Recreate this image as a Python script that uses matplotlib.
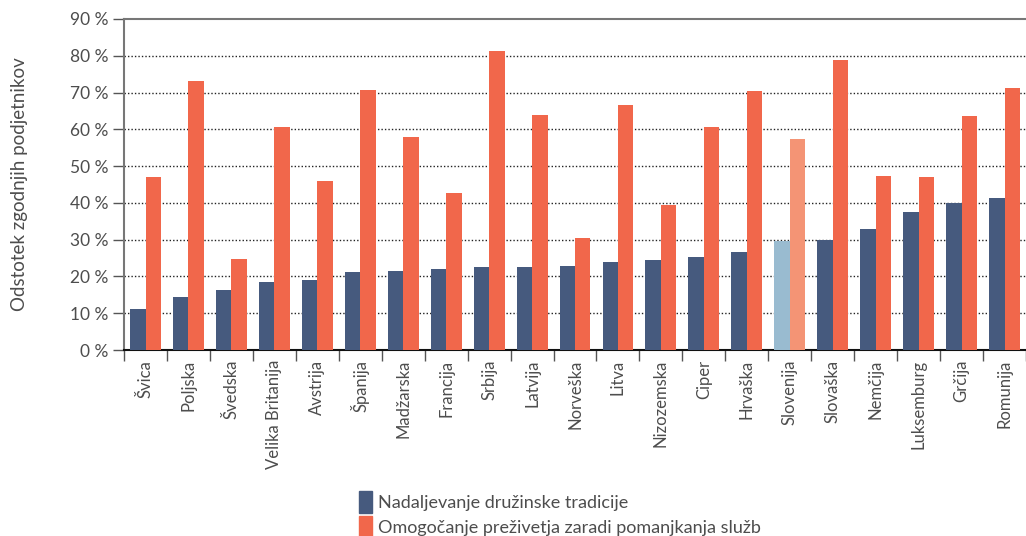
import numpy as np
import matplotlib.pyplot as plt
from matplotlib.patches import Patch
from matplotlib.ticker import FixedLocator

plt.rcParams["font.family"] = ["Lato", "DejaVu Sans"]

COUNTRIES = ["Švica", "Poljska", "Švedska", "Velika Britanija", "Avstrija",
             "Španija", "Madžarska", "Francija", "Srbija", "Latvija",
             "Norveška", "Litva", "Nizozemska", "Ciper", "Hrvaška",
             "Slovenija", "Slovaška", "Nemčija", "Luksemburg", "Grčija",
             "Romunija"]
TRADITION = [11.1, 14.4, 16.3, 18.5, 19.0, 21.2, 21.5, 22.0, 22.6, 22.6,
             22.8, 23.9, 24.5, 25.3, 26.6, 29.6, 29.9, 32.9, 37.5, 39.9, 41.3]
SURVIVAL = [47.0, 73.1, 24.7, 60.6, 45.9, 70.7, 57.9, 42.7, 81.3, 63.9,
            30.4, 66.6, 39.4, 60.6, 70.4, 57.3, 78.8, 47.3, 47.0, 63.6, 71.2]
SERIES = ["Nadaljevanje družinske tradicije",
          "Omogočanje preživetja zaradi pomanjkanja služb"]
HIGHLIGHT = "Slovenija"

BLUE, RED = "#465a7e", "#f1674b"
BLUE_HI, RED_HI = "#99bbd0", "#f49475"
TEXT = "#4d4d4d"

fig = plt.figure(figsize=(10.26, 5.36), dpi=100)
ax = fig.add_axes([0.1209, 0.347, 0.8791, 0.6176])

x = np.arange(len(COUNTRIES))
w = 0.36
c1 = [BLUE_HI if c == HIGHLIGHT else BLUE for c in COUNTRIES]
c2 = [RED_HI if c == HIGHLIGHT else RED for c in COUNTRIES]
ax.bar(x - w / 2, TRADITION, w, color=c1, zorder=3)
ax.bar(x + w / 2, SURVIVAL, w, color=c2, zorder=3)

ax.set_xlim(-0.5, len(COUNTRIES) - 0.5)
ax.set_ylim(0, 90)
ax.set_yticks(range(0, 91, 10))
ax.set_yticklabels([f"{v} %" for v in range(0, 91, 10)],
                   fontsize=12.5, color=TEXT)
ax.tick_params(axis="y", length=8, width=1, color="#555555", pad=3)

ax.set_xticks(x)
ax.set_xticklabels(COUNTRIES, rotation=90, fontsize=12, color=TEXT)
ax.tick_params(axis="x", length=0, pad=7)
ax.xaxis.set_minor_locator(FixedLocator(np.arange(-0.5, len(COUNTRIES), 1)))
ax.tick_params(axis="x", which="minor", length=8, width=1, color="#555555")

# dotted gridlines between 10 % and 80 %
for y in range(10, 90, 10):
    ax.axhline(y, color="#222222", lw=1, ls=(0, (1, 1.5)), zorder=1)

for side in ("left", "top"):
    ax.spines[side].set_color("#777777")
    ax.spines[side].set_linewidth(1.5)
ax.spines["right"].set_visible(False)
ax.spines["bottom"].set_color("#111111")
ax.spines["bottom"].set_linewidth(1.5)

ax.set_ylabel("Odstotek zgodnjih podjetnikov", fontsize=13.5, color=TEXT)
ax.yaxis.set_label_coords(-0.107, 0.5)

handles = [Patch(color=BLUE), Patch(color=RED)]
fig.legend(handles, SERIES, loc="upper left", bbox_to_anchor=(0.341, 0.1),
           frameon=False, fontsize=13, handlelength=0.75, handleheight=1.45,
           handletextpad=0.3, labelspacing=0.2, borderpad=0, labelcolor=TEXT)

fig.savefig("out.png", dpi=100)
